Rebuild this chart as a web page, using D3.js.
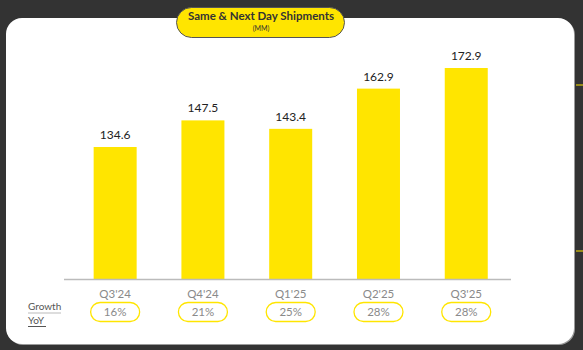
<!DOCTYPE html>
<html><head><meta charset="utf-8">
<script src="https://cdn.jsdelivr.net/npm/d3@7"></script>
<style>html,body{margin:0;padding:0;background:#333333;}svg{display:block;}</style>
</head><body>
<svg id="chart" width="583" height="350"></svg>
<script>
const categories = ["Q3'24", "Q4'24", "Q1'25", "Q2'25", "Q3'25"];
const shipments = [134.6, 147.5, 143.4, 162.9, 172.9];
const growthYoY = ["16%", "21%", "25%", "28%", "28%"];
const title = "Same & Next Day Shipments";
const subtitle = "(MM)";

const svg = d3.select("#chart");
const font = "Lato, 'Open Sans', sans-serif";
const yellow = "#FFE500";

svg.append("rect").attr("width", 583).attr("height", 350).attr("fill", "#333333");
// card shadow + card
svg.append("rect").attr("x", 7).attr("y", 19).attr("width", 568).attr("height", 326).attr("rx", 16).attr("fill", "#9a9a9a");
svg.append("rect").attr("x", 6).attr("y", 18).attr("width", 568).attr("height", 326).attr("rx", 16).attr("fill", "#ffffff");

// right edge yellow marks
[85, 251].forEach(y => svg.append("line").attr("x1", 576).attr("x2", 583).attr("y1", y).attr("y2", y).attr("stroke", yellow).attr("stroke-width", 1));

// title pill
svg.append("rect").attr("x", 176.5).attr("y", 7.5).attr("width", 168).attr("height", 30).attr("rx", 15)
  .attr("fill", yellow).attr("stroke", "#555").attr("stroke-width", 1);
svg.append("text").attr("x", 261).attr("y", 20).attr("text-anchor", "middle")
  .attr("font-family", font).attr("font-weight", "bold").attr("font-size", 11.5).attr("fill", "#333").text(title);
svg.append("text").attr("x", 261).attr("y", 31).attr("text-anchor", "middle")
  .attr("font-family", font).attr("font-size", 7).attr("fill", "#333").text(subtitle);

const x = d3.scaleBand().domain(categories).range([71.7, 509.7]).paddingInner(0.51).paddingOuter(0.25);
const y = d3.scaleLinear().domain([70.6, 172.9]).range([279, 68]);

// bars
svg.append("g").selectAll("rect").data(shipments).join("rect")
  .attr("x", (d, i) => x(categories[i]))
  .attr("y", d => y(d))
  .attr("width", x.bandwidth())
  .attr("height", d => y(70.6) - y(d))
  .attr("fill", yellow);

// value labels
svg.append("g").selectAll("text").data(shipments).join("text")
  .attr("x", (d, i) => x(categories[i]) + x.bandwidth() / 2)
  .attr("y", d => y(d) - 8)
  .attr("text-anchor", "middle")
  .attr("font-family", font).attr("font-size", 12).attr("fill", "#222")
  .text(d => d.toFixed(1));

// axis
const axis = svg.append("g").attr("transform", "translate(0,279)")
  .call(d3.axisBottom(x).tickSize(0).tickPadding(0));
axis.select(".domain").attr("d", "M64,0.5H511").attr("stroke", "#bbbbbb").attr("stroke-width", 1.5);
axis.selectAll(".tick text").attr("y", 19).attr("dy", null)
  .attr("font-family", font).attr("font-size", 11.5).attr("fill", "#8a8a8a");

// growth pills
const pills = svg.append("g").selectAll("g").data(growthYoY).join("g")
  .attr("transform", (d, i) => `translate(${x(categories[i]) + x.bandwidth() / 2},312)`);
pills.append("rect").attr("x", -24.5).attr("y", -9.5).attr("width", 49).attr("height", 19).attr("rx", 9.5)
  .attr("fill", "#fff").attr("stroke", yellow).attr("stroke-width", 1.3);
pills.append("text").attr("y", 4).attr("text-anchor", "middle")
  .attr("font-family", font).attr("font-size", 11.5).attr("fill", "#8a8a8a").text(d => d);

// Growth YoY label
svg.append("text").attr("x", 28).attr("y", 310).attr("font-family", font).attr("font-size", 10).attr("fill", "#555").text("Growth");
svg.append("line").attr("x1", 28).attr("x2", 61).attr("y1", 313).attr("y2", 313).attr("stroke", "#bbb").attr("stroke-width", 1.2);
svg.append("text").attr("x", 28).attr("y", 323.5).attr("font-family", font).attr("font-size", 10).attr("fill", "#555").text("YoY");
svg.append("line").attr("x1", 28).attr("x2", 46).attr("y1", 326.5).attr("y2", 326.5).attr("stroke", "#555").attr("stroke-width", 1);
</script>
</body></html>
